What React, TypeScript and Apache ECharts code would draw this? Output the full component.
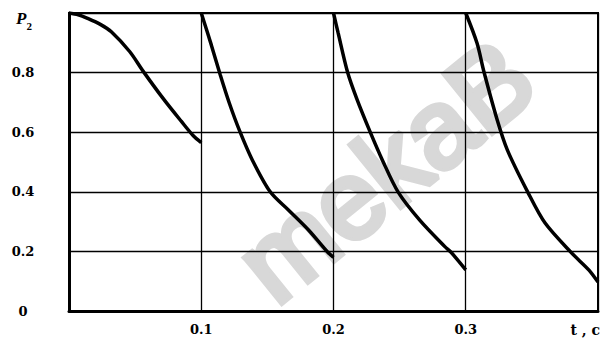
import React, { useEffect, useRef } from "react";
import * as echarts from "echarts";

// Tick labels
const xTickLabels = ["0.1", "0.2", "0.3"];
const yTickLabels = ["0", "0.2", "0.4", "0.6", "0.8"];
const xAxisName = "t , c";
const yAxisSymbol = "P";
const yAxisSub = "2";
const watermark = "mekaB";

// Four cycles of P2(t)
const cycle1: number[][] = [
  [0, 1.0], [0.007, 0.994], [0.014, 0.982], [0.024, 0.961], [0.032, 0.937],
  [0.046, 0.87], [0.056, 0.805], [0.0717, 0.71], [0.085, 0.636],
  [0.094, 0.588], [0.1, 0.565],
];
const cycle2: number[][] = [
  [0.1, 1.0], [0.1076, 0.893], [0.1144, 0.792], [0.1212, 0.698], [0.1288, 0.607],
  [0.1386, 0.507], [0.1523, 0.399], [0.1659, 0.339], [0.1811, 0.272],
  [0.1955, 0.198], [0.2, 0.18],
];
const cycle3: number[][] = [
  [0.2, 1.0], [0.2035, 0.933], [0.2106, 0.802], [0.2177, 0.711], [0.2277, 0.601],
  [0.2369, 0.507], [0.2489, 0.399], [0.2652, 0.305], [0.2842, 0.216],
  [0.2887, 0.198], [0.3, 0.138],
];
const cycle4: number[][] = [
  [0.3, 1.0], [0.3085, 0.899], [0.3138, 0.802], [0.3238, 0.641], [0.3315, 0.54],
  [0.3469, 0.399], [0.36, 0.295], [0.38, 0.195], [0.393, 0.138], [0.4, 0.097],
];
const cycles = [cycle1, cycle2, cycle3, cycle4];

const labelFont = "DejaVu Serif";

export default function App() {
  const ref = useRef<HTMLDivElement>(null);
  useEffect(() => {
    document.body.style.margin = "0";
    if (!ref.current) return;
    const chart = echarts.init(ref.current, undefined, { renderer: "svg" });
    chart.setOption({
      animation: false,
      backgroundColor: "#ffffff",
      grid: {
        left: 69,
        right: 2,
        top: 13,
        bottom: 30,
        show: true,
        borderColor: "#000",
        borderWidth: 2,
        backgroundColor: "transparent",
      },
      xAxis: {
        type: "value",
        min: 0,
        max: 0.4,
        interval: 0.1,
        axisLine: { show: true, lineStyle: { color: "#000", width: 3 } },
        axisTick: { show: false },
        splitLine: { show: true, lineStyle: { color: "#000", width: 1.3 } },
        axisLabel: {
          margin: 12,
          color: "#000",
          fontFamily: labelFont,
          fontWeight: "bold",
          fontSize: 13,
          formatter: (v: number) => {
            const i = Math.round(v * 10) - 1;
            return i >= 0 && i < xTickLabels.length ? xTickLabels[i] : "";
          },
        },
      },
      yAxis: {
        type: "value",
        min: 0,
        max: 1,
        interval: 0.2,
        axisLine: { show: true, lineStyle: { color: "#000", width: 3 } },
        axisTick: { show: false },
        splitLine: { show: true, lineStyle: { color: "#000", width: 1.3 } },
        axisLabel: {
          margin: 46,
          align: "center",
          color: "#000",
          fontFamily: labelFont,
          fontWeight: "bold",
          fontSize: 13,
          formatter: (v: number) => {
            const i = Math.round(v * 5);
            return i < yTickLabels.length ? yTickLabels[i] : "";
          },
        },
      },
      graphic: [
        {
          type: "text",
          x: 385,
          y: 170,
          rotation: 0.68,
          z: -1,
          silent: true,
          style: {
            text: watermark,
            font: "normal 110px 'Liberation Sans'",
            fill: "#d8d8d8",
            stroke: "#d8d8d8",
            lineWidth: 6,
            align: "center",
            verticalAlign: "middle",
          },
        },
        {
          type: "text",
          x: 16,
          y: 10,
          style: {
            text: `{p|${yAxisSymbol}}{s|${yAxisSub}}`,
            rich: {
              p: {
                fontFamily: "Liberation Serif",
                fontStyle: "italic",
                fontWeight: "bold",
                fontSize: 17,
                fill: "#000",
                verticalAlign: "top",
              },
              s: {
                fontFamily: "Liberation Serif",
                fontWeight: "bold",
                fontSize: 11,
                fill: "#000",
                padding: [10, 0, 0, 0],
                verticalAlign: "top",
              },
            },
          },
        },
        {
          type: "text",
          x: 600,
          y: 330,
          style: {
            text: xAxisName,
            font: `bold 14px '${labelFont}'`,
            fill: "#000",
            align: "right",
            verticalAlign: "middle",
          },
        },
      ],
      series: cycles.map((c) => ({
        type: "line",
        data: c,
        smooth: 0.3,
        showSymbol: false,
        lineStyle: { color: "#000", width: 3.5 },
        z: 3,
      })),
    });
    return () => chart.dispose();
  }, []);
  return <div ref={ref} style={{ width: 601, height: 341 }} />;
}
